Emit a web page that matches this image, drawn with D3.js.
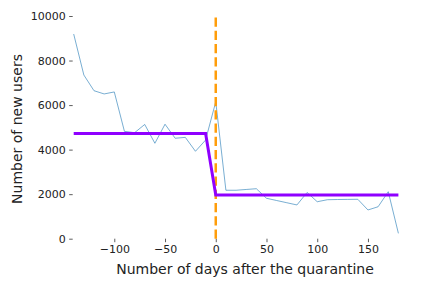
<!DOCTYPE html>
<html>
<head>
<meta charset="utf-8">
<script src="https://cdn.jsdelivr.net/npm/d3@7"></script>
<style>
  body { margin: 0; background: #fff; }
  text { font-family: "DejaVu Sans", sans-serif; fill: #222; }
</style>
</head>
<body>
<script>
// chart size
var svgWidth = 432;
var svgHeight = 288;

// daily new users, one point every 10 days
var days = [-140, -130, -120, -110, -100, -90, -80, -70, -60, -50, -40, -30, -20, -10,
  0, 10, 20, 30, 40, 50, 60, 70, 80, 90, 100, 110, 120, 130, 140, 150, 160, 170, 180];
var newUsers = [9190, 7350, 6645, 6500, 6590, 4820, 4760, 5130, 4285, 5140, 4510, 4550, 3925, 4430,
  6150, 2175, 2175, 2210, 2245, 1815, 1715, 1615, 1515, 2075, 1660, 1750, 1760, 1765, 1770, 1290, 1435, 2110, 240];

// fitted step (purple)
var fitDays = [-140, -10, 0, 180];
var fitUsers = [4720, 4720, 1960, 1960];

var xTicks = [-100, -50, 0, 50, 100, 150];
var yTicks = [0, 2000, 4000, 6000, 8000, 10000];

var svg = d3.select("body")
  .append("svg")
  .attr("width", svgWidth)
  .attr("height", svgHeight);

var xScale = d3.scaleLinear()
  .domain([-140, 180])
  .range([73.7, 398.4]);

var yScale = d3.scaleLinear()
  .domain([0, 10000])
  .range([238.7, 16]);

// axes
var bottomAxis = d3.axisBottom(xScale)
  .tickValues(xTicks)
  .tickSize(3.5)
  .tickPadding(3.5);
var leftAxis = d3.axisLeft(yScale)
  .tickValues(yTicks)
  .tickFormat(d3.format("d"))
  .tickSize(3.5)
  .tickPadding(3.5);

var xAxisG = svg.append("g")
  .attr("transform", `translate(0, ${yScale(0)})`)
  .call(bottomAxis);
var yAxisG = svg.append("g")
  .attr("transform", `translate(${xScale(-140) - 1}, 0)`)
  .call(leftAxis);

[xAxisG, yAxisG].forEach(function (g) {
  g.select(".domain").remove();
  g.selectAll(".tick line").attr("stroke", "#333").attr("stroke-width", 0.8);
  g.selectAll(".tick text")
    .style("font-family", "DejaVu Sans")
    .style("font-size", "11px")
    .attr("fill", "#222");
});

// blue raw series
var line = d3.line()
  .x((d, i) => xScale(days[i]))
  .y(d => yScale(d));

svg.append("path")
  .datum(newUsers)
  .attr("fill", "none")
  .attr("stroke", "#1f77b4")
  .attr("stroke-opacity", 0.75)
  .attr("stroke-width", 0.8)
  .attr("d", line);

// quarantine marker
svg.append("line")
  .attr("x1", xScale(0))
  .attr("x2", xScale(0))
  .attr("y1", yScale(0))
  .attr("y2", yScale(10000))
  .attr("stroke", "#ff9d0a")
  .attr("stroke-width", 2.5)
  .attr("stroke-dasharray", "9.25,4");

// step fit
var fitLine = d3.line()
  .x((d, i) => xScale(fitDays[i]))
  .y(d => yScale(d));

svg.append("path")
  .datum(fitUsers)
  .attr("fill", "none")
  .attr("stroke", "#8f00ff")
  .attr("stroke-width", 3)
  .attr("d", fitLine);

// axis labels
svg.append("text")
  .attr("transform", `translate(245, 274)`)
  .style("text-anchor", "middle")
  .style("font-size", "14px")
  .text("Number of days after the quarantine");

svg.append("text")
  .attr("transform", `translate(22, 129) rotate(-90)`)
  .style("text-anchor", "middle")
  .style("font-size", "14px")
  .text("Number of new users");
</script>
</body>
</html>
